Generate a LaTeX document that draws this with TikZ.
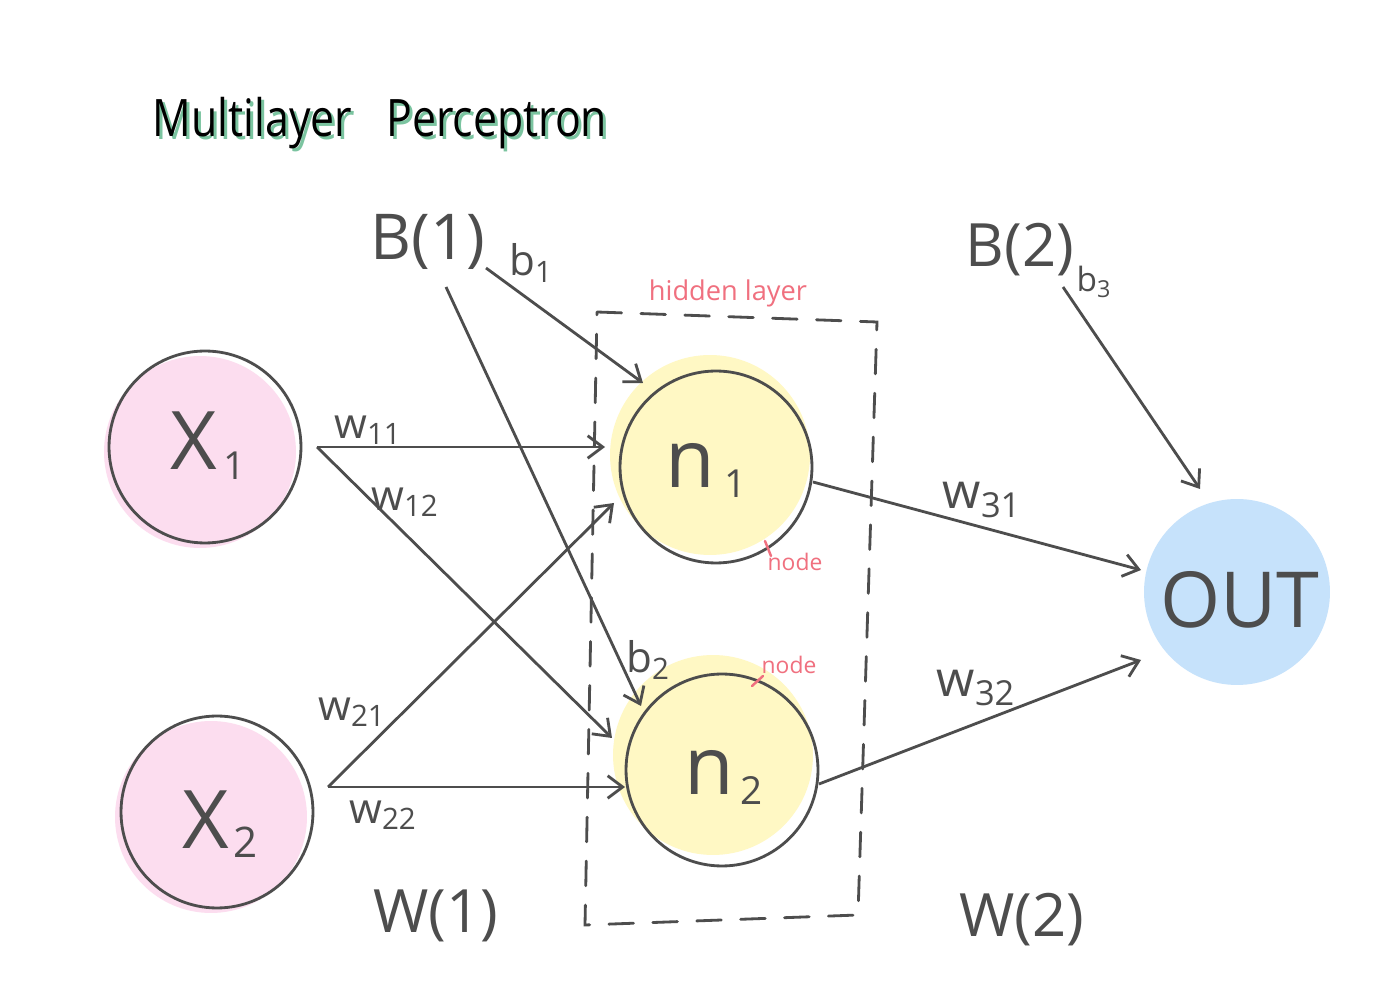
\documentclass[tikz,border=0pt]{standalone}
\usepackage{fontspec}
\setmainfont{Open Sans}
\usetikzlibrary{arrows.meta}
\definecolor{ink}{HTML}{4D4D4D}
\definecolor{pinkfill}{HTML}{FCDDEF}
\definecolor{yellowfill}{HTML}{FFF8C4}
\definecolor{bluefill}{HTML}{C6E2FB}
\definecolor{pinktext}{HTML}{F0707F}
\definecolor{greenshadow}{HTML}{7BC4A0}
\newcommand\fs[1]{\fontsize{#1}{#1}\selectfont}
\newcommand\lowsub[2]{\raisebox{-0.12em}{\fs{#1}#2}}
\newcommand\titletext{\scalebox{0.87}[1.05]{\fs{28}Multilayer\hspace{0.8em}Perceptron}}
\begin{document}
\begin{tikzpicture}[x=0.02cm,y=-0.02cm,
  conn/.style={draw=ink,line width=1.6pt,-{Straight Barb[length=0.3cm,width=0.45cm,line width=1.6pt]}},
  neuron/.style={circle,draw=ink,line width=1.6pt,minimum size=3.84cm,inner sep=0pt},
  blob/.style={circle,inner sep=0pt,draw=none},
  lbl/.style={text=ink,inner sep=0pt},
  note/.style={text=pinktext,inner sep=0pt},
  hidbox/.style={draw=ink,line width=1.6pt,dash pattern=on 14pt off 11pt,line cap=round}]
\useasboundingbox (0,0) rectangle (1390,999);
\fill[white] (0,0) rectangle (1390,999);

% title (green shadow under black text, one node)
\node[inner sep=0pt] (title) at (380,125)
  {\rlap{\hspace{1.7pt}\raisebox{-1.7pt}{\color{greenshadow}\titletext}}\color{black}\titletext};

% colour blobs
\node[blob,fill=pinkfill,minimum size=3.84cm] at (200,452) {};
\node[blob,fill=pinkfill,minimum size=3.84cm] at (211,817) {};
\node[blob,fill=yellowfill,minimum size=4.0cm] at (710,455) {};
\node[blob,fill=yellowfill,minimum size=4.0cm] at (713,755) {};
\node[blob,fill=bluefill,minimum size=3.72cm] (out) at (1237,592) {};

% neurons
\node[neuron] (X1) at (205,447) {};
\node[neuron] (X2) at (217,812) {};
\node[neuron] (n1) at (716,467) {};
\node[neuron] (n2) at (722,770) {};

\node[lbl,anchor=base] at (208,470) {\fs{46}X\hspace{0.08em}\lowsub{22}{1}};
\node[lbl,anchor=base] at (220,848) {\fs{46}X\hspace{0.05em}\lowsub{24}{2}};
\node[lbl,anchor=base] at (706,488) {\fs{46}n\hspace{0.12em}\lowsub{22}{1}};
\node[lbl,anchor=base] at (724,795) {\fs{46}n\hspace{0.08em}\lowsub{22}{2}};
\node[lbl] at (1240,600) {\fs{44}OUT};

% hidden layer box
\draw[hidbox] (597,312) -- (877,322) -- (858,915) -- (585,925) -- cycle;
\node[note] (hl) at (728,293) {\fs{15.5}hidden layer};
\node[note] (nd1) at (795,562) {\fs{13}node};
\draw[pinktext,line width=1.4pt,line cap=round] (765,541) -- (771,556);
\node[note] (nd2) at (789,665) {\fs{13}node};
\draw[pinktext,line width=1.4pt,line cap=round] (752,686) -- (763,676);

% bias labels
\node[lbl] (B1) at (428,242) {\fs{36}B(1)};
\node[lbl] (B2) at (1020,250) {\fs{34}B(2)};
\node[lbl] (W1) at (436,916) {\fs{34}W(1)};
\node[lbl] (W2) at (1022,920) {\fs{34}W(2)};

% anchor coordinates of connectors
\coordinate (x1o) at (317,447);
\coordinate (x2o) at (328,787);
\coordinate (b1a) at (486,268);
\coordinate (b1b) at (446,287);
\coordinate (b2o) at (1063,287);
\coordinate (n1o) at (813,482);
\coordinate (n2o) at (819,784);
\coordinate (n1a) at (605,447);
\coordinate (n1b) at (614,503);
\coordinate (n1c) at (643,383);
\coordinate (n2a) at (625,787);
\coordinate (n2b) at (612,738);
\coordinate (n2c) at (641,706);
\coordinate (outa) at (1141,570);
\coordinate (outb) at (1141,660);
\coordinate (outc) at (1200,489);

\draw[conn] (x1o) -- (n1a);
\draw[conn] (x1o) -- (n2b);
\draw[conn] (x2o) -- (n2a);
\draw[conn] (x2o) -- (n1b);
\draw[conn] (b1a) -- (n1c);
\draw[conn] (b1b) -- (n2c);
\draw[conn] (n1o) -- (outa);
\draw[conn] (n2o) -- (outb);
\draw[conn] (b2o) -- (outc);

% weight labels
\node[lbl] at (368,430) {\fs{24}w\textsubscript{11}};
\node[lbl] at (405,502) {\fs{24}w\textsubscript{12}};
\node[lbl] at (352,712) {\fs{24}w\textsubscript{21}};
\node[lbl] at (383,815) {\fs{24}w\textsubscript{22}};
\node[lbl] at (531,263) {\fs{24}b\textsubscript{1}};
\node[lbl] at (648,660) {\fs{24}b\textsubscript{2}};
\node[lbl] at (1094,282) {\fs{19}b\textsubscript{3}};
\node[lbl] at (982,500) {\fs{28}w\textsubscript{31}};
\node[lbl] at (976,688) {\fs{28}w\textsubscript{32}};
\end{tikzpicture}
\end{document}
